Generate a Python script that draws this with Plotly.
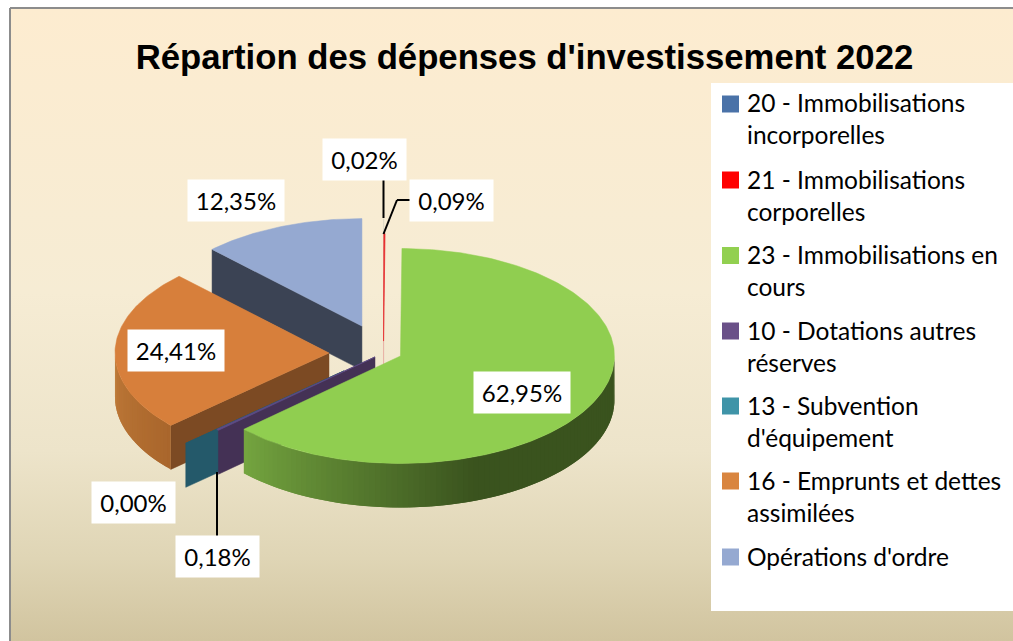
import base64
import math
import plotly.graph_objects as go

# ---- data ----
CATEGORIES = ["20 - Immobilisations<br>incorporelles", "21 - Immobilisations<br>corporelles",
              "23 - Immobilisations en<br>cours", "10 - Dotations autres<br>réserves",
              "13 - Subvention<br>d'équipement", "16 - Emprunts et dettes<br>assimilées",
              "Opérations d'ordre"]
VALUES = [0.02, 0.09, 62.95, 0.18, 0.00, 24.41, 12.35]
TITLE = "Répartion des dépenses d'investissement 2022"

# ---- styles ----
W, H = 1013, 641
LEGEND_COLORS = ["#4a72a8", "#ff0000", "#92d050", "#6a5088", "#3f94a8", "#d9853f", "#95a9d1"]
TOP_COLORS = ["#dcd8c6", "#e8282a", "#90ce50", "#5f4a85", "#24596a", "#d77f3b", "#95a9d1"]
WALL_COLORS = ["#dcd8c6", "#eba79c", "#3b531f", "#443155", "#24596a", "#7c4a23", "#3b4354"]
RIM_STOPS = {2: [(90, "#3a531e"), (160, "#3a531e"), (228, "#75a640")],
             5: [(228, "#a9662c"), (270, "#bf7a38")]}
PAINT_ORDER = [6, 0, 1, 5, 4, 3, 2]
CX, CY, RX, RY, DEPTH_PX = 366, 349, 214, 107.5, 44
DEPTH = DEPTH_PX / RY
# explosion of each slice from the pie centre, in radius units
EXPLODE = [(0.082, 0.213), (0.082, 0.074), (0.161, -0.065), (0.042, -0.074),
           (-0.103, -0.204), (-0.173, -0.037), (-0.019, 0.213)]
# label box centres, in pixels
LABEL_POS = [(364.5, 159.5), (451.5, 200.5), (522, 392.5), (217.5, 556.5),
             (133.5, 502.5), (176, 350.5), (236, 200.5)]
# legend layout, in pixels: centre of the first text line of each entry
LEGEND_LINE_Y = [103, 179, 254.5, 330, 405, 480, 556]
LEGEND_SWATCH_X, LEGEND_TEXT_X, LEGEND_SWATCH = 722, 745.5, 17
LEGEND_SWATCH_SHIFT = 1
LEGEND_LINE_STEP = 32


def hex2rgb(c):
    return [int(c[i:i + 2], 16) for i in (1, 3, 5)]


def mix(stops, a):
    if a <= stops[0][0]:
        return stops[0][1]
    for (a0, c0), (a1, c1) in zip(stops, stops[1:]):
        if a <= a1:
            t = (a - a0) / (a1 - a0)
            r = [round(p + (q - p) * t) for p, q in zip(hex2rgb(c0), hex2rgb(c1))]
            return "rgb(%d,%d,%d)" % tuple(r)
    return stops[-1][1]


fig = go.Figure()


def poly(xs, ys, color, width=1.0):
    fig.add_trace(go.Scatter(x=xs, y=ys, mode="lines", fill="toself", fillcolor=color,
                             line=dict(color=color, width=width), showlegend=False,
                             hoverinfo="skip"))


edges = [0.0]
for v in VALUES:
    edges.append(edges[-1] + v * 3.6)

for i in PAINT_ORDER:
    a0, a1 = edges[i], edges[i + 1]
    dx, dy = EXPLODE[i]

    def rim(a, drop=0.0):
        t = math.radians(a)
        return dx + math.sin(t), dy + math.cos(t) - drop

    # radial walls that face the viewer
    if math.sin(math.radians(a0)) < -1e-6:
        p, q = rim(a0), rim(a0, DEPTH)
        poly([dx, p[0], q[0], dx, dx], [dy, p[1], q[1], dy - DEPTH, dy], WALL_COLORS[i], 0.5)
    elif VALUES[i] < 0.1:
        poly([dx, dx], [dy, dy - DEPTH], WALL_COLORS[i], 0.8)
    # outer wall with shading: overlapping bands so that no seams show
    if i in RIM_STOPS:
        lo, hi = max(a0, 90.0), min(a1, 270.0)
        n = int((hi - lo) / 1.5) + 1
        for k in range(n):
            b0 = lo + (hi - lo) * k / n
            b1 = lo + (hi - lo) * min(k + 2, n) / n
            sub = [b0 + (b1 - b0) * s / 3 for s in range(4)]
            upper = [rim(b) for b in sub]
            lower = [rim(b, DEPTH) for b in reversed(sub)]
            ring = upper + lower + upper[:1]
            poly([p[0] for p in ring], [p[1] for p in ring],
                 mix(RIM_STOPS[i], lo + (hi - lo) * (k + 0.5) / n), 0)
    # top face
    steps = max(2, int((a1 - a0) / 1.0) + 2)
    pts = [rim(a0 + (a1 - a0) * k / (steps - 1)) for k in range(steps)]
    poly([dx] + [p[0] for p in pts] + [dx], [dy] + [p[1] for p in pts] + [dy], TOP_COLORS[i],
         0.7 if VALUES[i] < 1 else 0.5)


def px(x):
    return x / W


def py(y):
    return 1 - y / H


annotations = []
for v, (x, y) in zip(VALUES, LABEL_POS):
    annotations.append(dict(text=f"{v:.2f}".replace(".", ",") + "%", xref="paper", yref="paper",
                            x=px(x), y=py(y), xanchor="center", yanchor="middle", showarrow=False,
                            width=96 if v >= 10 else 83, height=41, bgcolor="#ffffff", borderpad=0,
                            font=dict(family="Lato", size=24, color="#000000")))


def seg(pts):
    return [dict(type="line", xref="paper", yref="paper", x0=px(a[0]), y0=py(a[1]),
                 x1=px(b[0]), y1=py(b[1]), line=dict(color="#000000", width=2))
            for a, b in zip(pts, pts[1:])]


shapes = [dict(type="rect", xref="paper", yref="paper", x0=px(711), x1=1.0, y0=py(611), y1=py(83),
               fillcolor="#ffffff", line=dict(width=0), layer="below"),
          dict(type="line", xref="paper", yref="paper", x0=px(10), x1=px(10), y0=0, y1=py(8),
               line=dict(color="#8c8c8c", width=2)),
          dict(type="line", xref="paper", yref="paper", x0=px(10), x1=1, y0=py(8), y1=py(8),
               line=dict(color="#8c8c8c", width=2))]
shapes += seg([(383.5, 180), (383.5, 218)])
shapes += seg([(383.5, 234), (397, 200), (410, 200)])
shapes += seg([(217, 472), (217, 536)])

# legend: swatch and text of each entry
for name, color, y in zip(CATEGORIES, LEGEND_COLORS, LEGEND_LINE_Y):
    sy = y + LEGEND_SWATCH_SHIFT
    shapes.append(dict(type="rect", xref="paper", yref="paper",
                       x0=px(LEGEND_SWATCH_X), x1=px(LEGEND_SWATCH_X + LEGEND_SWATCH),
                       y0=py(sy + LEGEND_SWATCH / 2), y1=py(sy - LEGEND_SWATCH / 2),
                       fillcolor=color, line=dict(width=0)))
    lines = name.count("<br>") + 1
    annotations.append(dict(text=name, xref="paper", yref="paper", x=px(LEGEND_TEXT_X),
                            y=py(y + (lines - 1) * LEGEND_LINE_STEP / 2), xanchor="left",
                            yanchor="middle", align="left", showarrow=False, borderpad=0,
                            font=dict(family="Lato", size=24.5, color="#000000")))

svg = ('<svg xmlns="http://www.w3.org/2000/svg" width="100" height="100" preserveAspectRatio="none">'
       '<defs><linearGradient id="g" x1="0" y1="0" x2="0" y2="1">'
       '<stop offset="0" stop-color="#fdecd0"/><stop offset="0.45" stop-color="#f6ecd4"/>'
       '<stop offset="0.7" stop-color="#ede4ca"/><stop offset="0.87" stop-color="#dfd5b5"/>'
       '<stop offset="1" stop-color="#d1c49f"/></linearGradient></defs>'
       '<rect width="100" height="100" fill="url(#g)"/></svg>')
bg = "data:image/svg+xml;base64," + base64.b64encode(svg.encode()).decode()

fig.update_layout(
    width=W, height=H, margin=dict(l=0, r=0, t=0, b=0, pad=0),
    paper_bgcolor="#ffffff", plot_bgcolor="rgba(0,0,0,0)", showlegend=False,
    xaxis=dict(visible=False, range=[-CX / RX, (W - CX) / RX], fixedrange=True),
    yaxis=dict(visible=False, range=[-(H - CY) / RY, CY / RY], fixedrange=True),
    title=dict(text=TITLE, x=524.5 / W, xanchor="center", y=py(57), yanchor="middle",
               font=dict(family="Liberation Sans", size=34.7, color="#000000", weight="bold")),
    images=[dict(source=bg, xref="paper", yref="paper", x=px(10), y=py(8), sizex=1 - px(10),
                 sizey=py(8), sizing="stretch", xanchor="left", yanchor="top", layer="below")],
    shapes=shapes, annotations=annotations,
    hovermode=False,
)

fig.write_html("out.html", config=dict(displayModeBar=False),
               post_script="document.body.style.margin='0';document.body.style.overflow='hidden';")
